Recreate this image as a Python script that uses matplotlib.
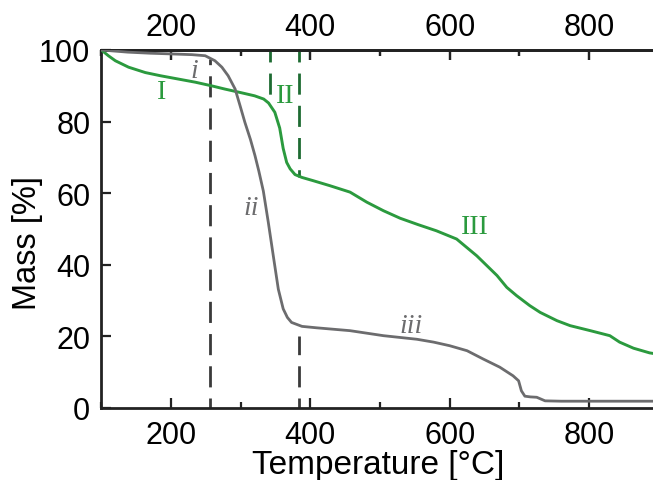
import matplotlib
matplotlib.use("Agg")
import matplotlib.pyplot as plt
from matplotlib.ticker import MultipleLocator

# TGA curves: temperature (°C) and remaining mass (%)
green_T = [100, 110, 120, 139, 163, 185, 210, 235, 258, 277, 300, 320, 333, 340, 349,
           356, 361, 366, 371, 378, 388, 404, 428, 457, 481, 505, 529, 555, 581, 610,
           639, 668, 682, 696, 715, 730, 754, 773, 802, 830, 837, 844, 864, 887, 900]
green_m = [100, 98.4, 97.0, 95.2, 93.7, 92.8, 91.9, 91.0, 90.0, 89.1, 88.1, 87.2, 86.3,
           85.2, 82.6, 78.2, 72.5, 68.6, 66.8, 65.2, 64.4, 63.5, 62.1, 60.3, 57.5, 55.1,
           53.0, 51.2, 49.5, 47.2, 42.5, 37.0, 33.7, 31.4, 28.6, 26.7, 24.4, 23.0, 21.6,
           20.2, 19.3, 18.4, 16.7, 15.4, 15.0]

gray_T = [100, 138, 170, 201, 230, 249, 263, 273, 282, 292, 299, 306, 314, 320.5, 326,
          332.5, 339.6, 346.8, 354, 361, 367, 373, 388, 409, 457, 505, 529, 553, 577,
          600, 625, 648, 672, 691, 699, 703, 708, 716, 725, 737, 760, 900]
gray_m = [100, 99.4, 99.1, 98.9, 98.7, 98.4, 97.0, 95.2, 92.8, 89.1, 84.5, 79.8, 75.0,
          70.5, 66.2, 60.6, 51.9, 42.5, 33.2, 27.7, 25.3, 23.9, 22.8, 22.4, 21.6, 20.2,
          19.7, 19.2, 18.4, 17.4, 16.0, 13.7, 11.4, 9.0, 7.6, 4.8, 3.3, 3.1, 3.0, 2.0,
          1.9, 1.9]

# Stage boundaries: (temperature, mass where the dashed line ends)
gray_bounds = [(256, 97.5), (383, 20.2)]
green_bounds = [(342, 85.3), (383, 64.6)]

# Stage labels: (text, T, mass)
green_labels = [("I", 187, 88.5), ("II", 364, 87.4), ("III", 636, 50.6)]
gray_labels = [("i", 234, 94.2), ("ii", 315, 56.1), ("iii", 544, 23.0)]

x_ticks = [200, 400, 600, 800]
y_ticks = [0, 20, 40, 60, 80, 100]

green = "#2b9a3e"
dgreen = "#1e6b32"
gray = "#6c6c6e"
dark = "#3a3a3a"
axis_col = "#222222"

fig = plt.figure(figsize=(6.53, 4.81), dpi=100)
ax = fig.add_axes([101.4 / 653, 1 - 409 / 481, 557.2 / 653, 358 / 481])

ax.plot(green_T, green_m, color=green, lw=2.1, zorder=3, solid_joinstyle="round")
ax.plot(gray_T, gray_m, color=gray, lw=2.0, zorder=3, solid_joinstyle="round")

dash = (7.6, 4.0)
for T, m in gray_bounds:
    ax.plot([T, T], [0, m], color=dark, lw=2.0, linestyle=(4, dash), zorder=2)
for T, m in green_bounds:
    ax.plot([T, T], [100, m], color=dgreen, lw=2.0, linestyle=(3.3, dash), zorder=2)

for txt, T, m in green_labels:
    ax.text(T, m, txt, color=green, fontsize=20, family="Liberation Serif",
            ha="center", va="center")
for txt, T, m in gray_labels:
    ax.text(T, m, txt, color=gray, fontsize=20, family="Liberation Serif",
            style="italic", ha="center", va="center")

ax.set_xlim(100, 900)
ax.set_ylim(0, 100)
ax.set_xticks(x_ticks)
ax.set_yticks(y_ticks)
ax.xaxis.set_minor_locator(MultipleLocator(100))
ax.tick_params(which="both", direction="in", top=True, labeltop=False,
               labelsize=22, width=1.6, color=axis_col)
ax.tick_params(axis="x", which="both", pad=9)
ax.tick_params(axis="y", which="both", pad=8)
ax.tick_params(which="major", length=7)
ax.tick_params(which="minor", length=4)
for s in ax.spines.values():
    s.set_linewidth(2.0)
    s.set_color(axis_col)

# Mirrored temperature scale along the top edge
top = ax.secondary_xaxis("top")
top.set_xticks(x_ticks)
top.xaxis.set_minor_locator(MultipleLocator(100))
top.tick_params(which="both", direction="in", labelsize=22, width=1.6,
                color=axis_col, pad=6)
top.tick_params(which="major", length=7)
top.tick_params(which="minor", length=4)
top.spines["top"].set_linewidth(2.0)
top.spines["top"].set_color(axis_col)

for lbl in (ax.get_xticklabels() + ax.get_yticklabels()
            + top.get_xticklabels()):
    lbl.set_family("Liberation Sans")

ax.set_xlabel("Temperature [°C]", fontsize=24, family="Liberation Sans")
ax.set_ylabel("Mass [%]", fontsize=23.5, family="Liberation Sans")
ax.xaxis.set_label_coords(0.497, -0.114)
ax.yaxis.set_label_coords(-0.105, 0.464)

fig.savefig("out.png", dpi=100)
